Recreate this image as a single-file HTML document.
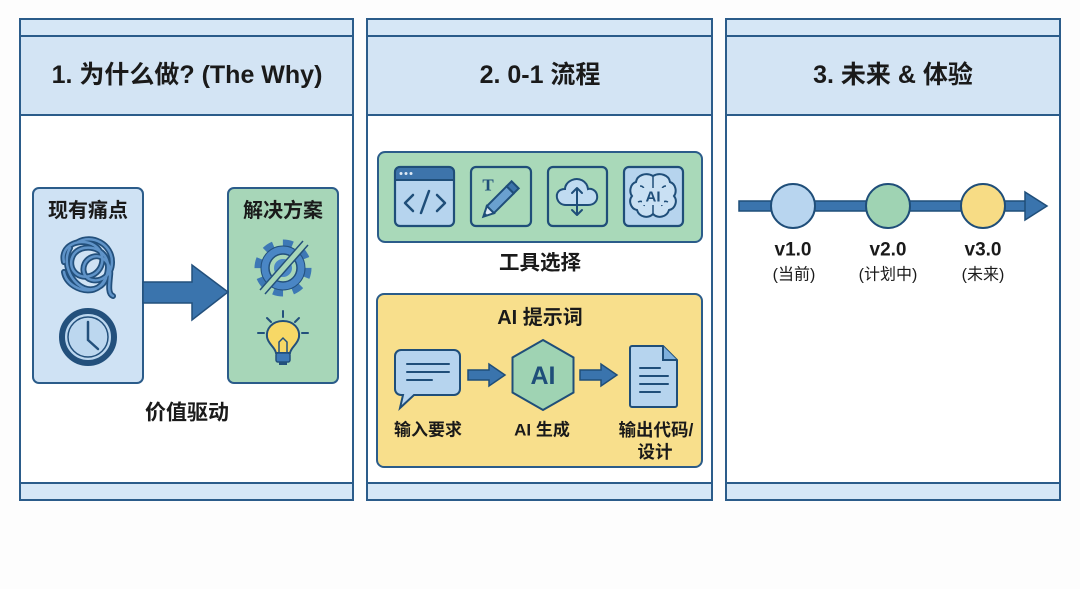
<!DOCTYPE html>
<html><head><meta charset="utf-8"><style>
html,body{margin:0;padding:0;background:#fdfdfd;}
svg{display:block;}
text{font-family:"Liberation Sans","Noto Sans CJK SC",sans-serif;font-weight:bold;fill:#1a1a1a;}
</style></head><body>
<svg width="1080" height="589" viewBox="0 0 1080 589" xmlns="http://www.w3.org/2000/svg">
<rect x="0" y="0" width="1080" height="589" fill="#fdfdfd"/>

<!-- Panels -->
<g stroke="#2b5c8a" stroke-width="2">
  <rect x="20" y="19" width="333" height="481" fill="#ffffff"/>
  <rect x="20" y="19" width="333" height="17" fill="#d6e7f6"/>
  <rect x="20" y="36" width="333" height="79" fill="#d3e4f4"/>
  <rect x="20" y="483" width="333" height="17" fill="#d6e7f6"/>
  <rect x="367" y="19" width="345" height="481" fill="#ffffff"/>
  <rect x="367" y="19" width="345" height="17" fill="#d6e7f6"/>
  <rect x="367" y="36" width="345" height="79" fill="#d3e4f4"/>
  <rect x="367" y="483" width="345" height="17" fill="#d6e7f6"/>
  <rect x="726" y="19" width="334" height="481" fill="#ffffff"/>
  <rect x="726" y="19" width="334" height="17" fill="#d6e7f6"/>
  <rect x="726" y="36" width="334" height="79" fill="#d3e4f4"/>
  <rect x="726" y="483" width="334" height="17" fill="#d6e7f6"/>
</g>

<!-- Headers -->
<text x="187" y="75" font-size="25" text-anchor="middle" dominant-baseline="central">1. 为什么做? (The Why)</text>
<text x="540" y="75" font-size="25" text-anchor="middle" dominant-baseline="central">2. 0-1 流程</text>
<text x="893" y="75" font-size="25" text-anchor="middle" dominant-baseline="central">3. 未来 &amp; 体验</text>

<!-- Panel 1 content -->
<rect x="33" y="188" width="110" height="195" rx="6" fill="#cfe2f4" stroke="#2b5c8a" stroke-width="2"/>
<rect x="228" y="188" width="110" height="195" rx="6" fill="#a7d6b8" stroke="#2b5c8a" stroke-width="2"/>
<text x="88" y="211" font-size="20" text-anchor="middle" dominant-baseline="central">现有痛点</text>
<text x="283" y="211" font-size="20" text-anchor="middle" dominant-baseline="central">解决方案</text>

<!-- knot -->
<g fill="none" stroke-linecap="round">
  <g stroke="#23507c" stroke-width="6">
    <path d="M64 262 C60 246 78 238 92 244 C108 252 104 272 90 276 C76 280 66 266 74 254 C82 244 100 246 106 258 C112 270 104 288 92 290 C80 292 66 284 64 272"/>
    <path d="M78 242 C92 234 112 244 112 262 C112 276 100 282 92 280 C82 278 80 264 90 258 C100 252 112 262 110 276 C109 286 108 294 113 296"/>
    <path d="M70 248 C62 262 70 282 84 288 C94 292 104 286 106 278"/>
  </g>
  <g stroke="#5f93c8" stroke-width="2.5">
    <path d="M64 262 C60 246 78 238 92 244 C108 252 104 272 90 276 C76 280 66 266 74 254 C82 244 100 246 106 258 C112 270 104 288 92 290 C80 292 66 284 64 272"/>
    <path d="M78 242 C92 234 112 244 112 262 C112 276 100 282 92 280 C82 278 80 264 90 258 C100 252 112 262 110 276 C109 286 108 294 113 296"/>
    <path d="M70 248 C62 262 70 282 84 288 C94 292 104 286 106 278"/>
  </g>
</g>
<!-- clock -->
<circle cx="88" cy="337" r="26" fill="#bcd7ef" stroke="#23507c" stroke-width="6"/>
<circle cx="88" cy="337" r="20" fill="none" stroke="#23507c" stroke-width="1.5"/>
<path d="M88 322 V340 L98 349" fill="none" stroke="#23507c" stroke-width="2.5" stroke-linecap="round"/>

<!-- big arrow -->
<polygon points="143,282 192,282 192,265 228,292 192,320 192,303 143,303" fill="#3a74ad" stroke="#23507c" stroke-width="1.5"/>

<!-- gear -->
<circle cx="283" cy="268" r="24" fill="none" stroke="#3d78b5" stroke-width="9" stroke-dasharray="9.4 9.4"/>
<circle cx="283" cy="268" r="22" fill="#4a86c5" stroke="#23507c" stroke-width="1"/>
<circle cx="283" cy="268" r="14" fill="#a7d6b8" stroke="#23507c" stroke-width="1.5"/>
<circle cx="283" cy="268" r="9" fill="#4a86c5"/>
<line x1="262" y1="292" x2="305" y2="243" stroke="#a7d6b8" stroke-width="7"/>
<line x1="260" y1="290" x2="303" y2="241" stroke="#23507c" stroke-width="1.5"/>
<line x1="265" y1="294" x2="308" y2="245" stroke="#23507c" stroke-width="1.5"/>

<!-- bulb -->
<g stroke="#23507c" stroke-width="2" stroke-linecap="round">
  <line x1="283" y1="311" x2="283" y2="317"/>
  <line x1="267" y1="318" x2="271" y2="322"/>
  <line x1="299" y1="318" x2="295" y2="322"/>
  <line x1="258" y1="333" x2="264" y2="333"/>
  <line x1="302" y1="333" x2="308" y2="333"/>
</g>
<path d="M283 321 C272 321 266 329 267 337 C268 344 275 347 276 353 H290 C291 347 298 344 299 337 C300 329 294 321 283 321 Z" fill="#f7d866" stroke="#23507c" stroke-width="2"/>
<path d="M279 353 V342 L283 338 L287 342 V353" fill="none" stroke="#23507c" stroke-width="1.5"/>
<rect x="276" y="353" width="14" height="9" rx="2" fill="#3d78b5" stroke="#23507c" stroke-width="1.5"/>
<rect x="279" y="362" width="8" height="3" fill="#23507c"/>

<text x="187" y="413" font-size="21" text-anchor="middle" dominant-baseline="central">价值驱动</text>

<!-- Panel 2 content -->
<rect x="378" y="152" width="324" height="90" rx="7" fill="#a9d9b9" stroke="#2b5c8a" stroke-width="2"/>
<rect x="395" y="167" width="59" height="59" rx="5" fill="#b6d4ee" stroke="#1f4e79" stroke-width="2.2"/>
<path d="M395 180 V172 a5 5 0 0 1 5 -5 H449 a5 5 0 0 1 5 5 V180 Z" fill="#3d74ab" stroke="#1f4e79" stroke-width="2"/>
<circle cx="401" cy="173.5" r="1.5" fill="#dfeaf5"/><circle cx="406" cy="173.5" r="1.5" fill="#dfeaf5"/><circle cx="411" cy="173.5" r="1.5" fill="#dfeaf5"/>
<path d="M413 195 L405 203 L413 211 M421 213 L429 191 M437 195 L445 203 L437 211" fill="none" stroke="#1f4e79" stroke-width="2.5" stroke-linecap="round" stroke-linejoin="round"/>
<rect x="471" y="167" width="60" height="59" rx="5" fill="none" stroke="#1f4e79" stroke-width="2.2"/>
<text x="488" y="185" font-size="17" text-anchor="middle" dominant-baseline="central" style="font-family:'Liberation Serif',serif;fill:#1f4e79">T</text>
<g transform="translate(501 199) rotate(-45)">
  <rect x="-15" y="-5" width="28" height="10" fill="#6aa0cf" stroke="#1f4e79" stroke-width="2"/>
  <rect x="13" y="-5" width="7" height="10" fill="#3d74ab" stroke="#1f4e79" stroke-width="2"/>
  <polygon points="-15,-5 -25,0 -15,5" fill="#dfeaf5" stroke="#1f4e79" stroke-width="2"/>
  <polygon points="-21,-2 -25,0 -21,2" fill="#1f4e79"/>
</g>
<rect x="548" y="167" width="59" height="59" rx="5" fill="none" stroke="#1f4e79" stroke-width="2.2"/>
<path d="M566 205 H588 C595 205 598 200 597 195 C596 190 591 188 588 189 C587 181 579 177 572 180 C567 182 565 186 565 189 C559 189 556 193 557 198 C558 202 561 205 566 205 Z" fill="#c0dbf1" stroke="#1f4e79" stroke-width="2"/>
<path d="M577 188 V215 M572 193 L577 188 L582 193 M572 210 L577 215 L582 210" fill="none" stroke="#1f4e79" stroke-width="2" stroke-linecap="round" stroke-linejoin="round"/>
<rect x="624" y="167" width="59" height="59" rx="5" fill="#b6d4ee" stroke="#1f4e79" stroke-width="2.2"/>
<path d="M653 176 C646 172 637 175 636 182 C630 184 629 192 632 196 C628 201 631 209 637 210 C639 217 648 219 653 214 C658 219 667 217 669 210 C675 209 678 201 674 196 C677 192 676 184 670 182 C669 175 660 172 653 176 Z" fill="#c9e0f3" stroke="#1f4e79" stroke-width="2"/>
<path d="M653 176 V214 M640 186 C644 186 645 190 643 192 M666 186 C662 186 661 190 663 192 M638 202 C642 200 645 203 644 206 M668 202 C664 200 661 203 662 206" fill="none" stroke="#1f4e79" stroke-width="1.5"/>
<rect x="642" y="188" width="22" height="17" fill="#c9e0f3"/>
<text x="653" y="197" font-size="15" text-anchor="middle" dominant-baseline="central" style="fill:#1f4e79">AI</text>

<text x="540" y="263" font-size="20.5" text-anchor="middle" dominant-baseline="central">工具选择</text>

<rect x="377" y="294" width="325" height="173" rx="7" fill="#f8df8c" stroke="#2b5c8a" stroke-width="2"/>
<text x="540" y="318" font-size="20" text-anchor="middle" dominant-baseline="central">AI 提示词</text>
<path d="M401 350 H454 a6 6 0 0 1 6 6 V389 a6 6 0 0 1 -6 6 H414 L400 408 L403 395 H401 a6 6 0 0 1 -6 -6 V356 a6 6 0 0 1 6 -6 Z" fill="#b6d4ee" stroke="#1f4e79" stroke-width="2"/>
<path d="M407 364 H449 M407 372 H449 M407 380 H432" stroke="#1f4e79" stroke-width="2" stroke-linecap="round"/>
<polygon points="468,370 489,370 489,364 505,375 489,386 489,380 468,380" fill="#3a74ad" stroke="#1f4e79" stroke-width="1.5"/>
<polygon points="580,370 601,370 601,364 617,375 601,386 601,380 580,380" fill="#3a74ad" stroke="#1f4e79" stroke-width="1.5"/>
<polygon points="543,340 573.5,357.5 573.5,392.5 543,410 512.5,392.5 512.5,357.5" fill="#9fd3b3" stroke="#1f4e79" stroke-width="2"/>
<text x="543" y="376" font-size="25" text-anchor="middle" dominant-baseline="central" style="fill:#1f4e79">AI</text>
<path d="M632 346 H663 L677 360 V405 a2 2 0 0 1 -2 2 H632 a2 2 0 0 1 -2 -2 V348 a2 2 0 0 1 2 -2 Z" fill="#b6d4ee" stroke="#1f4e79" stroke-width="2"/>
<path d="M663 346 V360 H677" fill="#7fb0dc" stroke="#1f4e79" stroke-width="2"/>
<path d="M640 368 H660 M640 376 H668 M640 384 H668 M640 392 H660" stroke="#1f4e79" stroke-width="2" stroke-linecap="round"/>

<text x="428" y="430" font-size="17" text-anchor="middle" dominant-baseline="central">输入要求</text>
<text x="542" y="430" font-size="17" text-anchor="middle" dominant-baseline="central">AI 生成</text>
<text x="656" y="430" font-size="17.5" text-anchor="middle" dominant-baseline="central">输出代码/</text>
<text x="655" y="452" font-size="17.5" text-anchor="middle" dominant-baseline="central">设计</text>

<!-- Panel 3 timeline -->
<rect x="739" y="201" width="290" height="10" fill="#3a74ad" stroke="#1f4e79" stroke-width="1.5"/>
<polygon points="1025,192 1047,206 1025,220" fill="#3a74ad" stroke="#1f4e79" stroke-width="1.5"/>
<circle cx="793" cy="206" r="22" fill="#b8d5ef" stroke="#1f4e79" stroke-width="2"/>
<circle cx="888" cy="206" r="22" fill="#9fd3b3" stroke="#1f4e79" stroke-width="2"/>
<circle cx="983" cy="206" r="22" fill="#f7dc85" stroke="#1f4e79" stroke-width="2"/>

<text x="793" y="250" font-size="19" text-anchor="middle" dominant-baseline="central">v1.0</text>
<text x="888" y="250" font-size="19" text-anchor="middle" dominant-baseline="central">v2.0</text>
<text x="983" y="250" font-size="19" text-anchor="middle" dominant-baseline="central">v3.0</text>
<text x="794" y="275" font-size="16" text-anchor="middle" dominant-baseline="central" style="font-weight:normal">(当前)</text>
<text x="888" y="275" font-size="16" text-anchor="middle" dominant-baseline="central" style="font-weight:normal">(计划中)</text>
<text x="983" y="275" font-size="16" text-anchor="middle" dominant-baseline="central" style="font-weight:normal">(未来)</text>
</svg>
</body></html>
